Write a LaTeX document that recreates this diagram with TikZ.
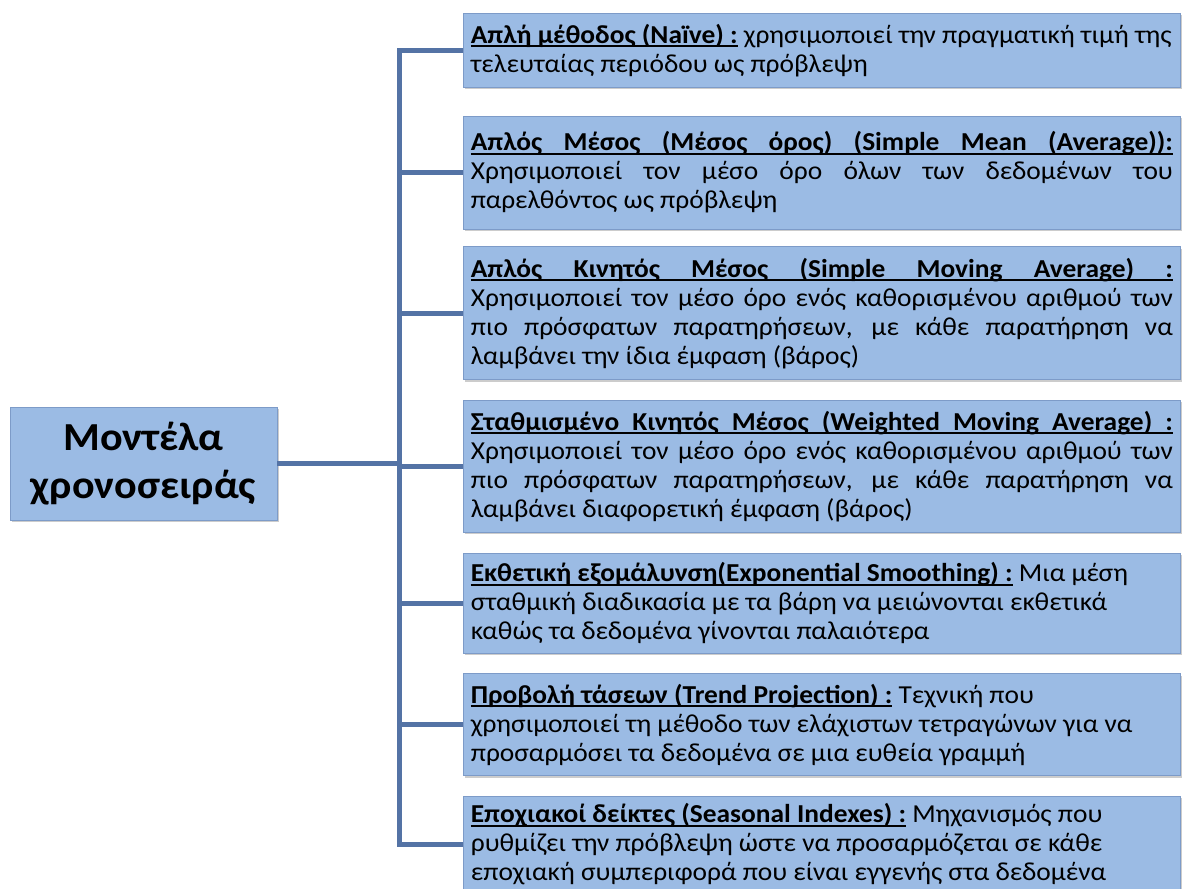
\documentclass[tikz,border=0pt]{standalone}
\usepackage{fontspec}
\setmainfont[FakeStretch=1.06]{Carlito}
\usepackage{tikz}
\usetikzlibrary{positioning,shadows}
\definecolor{boxblue}{RGB}{155,187,228}
\definecolor{boxedge}{RGB}{125,155,200}
\definecolor{linkblue}{RGB}{84,115,165}
\newlength\pxu
\setlength\pxu{0.75pt}
\setlength\parindent{0pt}
\hbadness=10000
\newbox\ulbox
\newcommand{\ulrule}{\vrule height -1.7pt depth 3.0pt}
\newcommand{\uw}[1]{\setbox\ulbox\hbox{\bfseries #1}\rlap{\ulrule width\wd\ulbox}\box\ulbox}
\newcommand{\ulline}[1]{\hbox to\linewidth{\rlap{\ulrule width\linewidth}\bfseries #1}}

\begin{document}
\begin{tikzpicture}[
    x=\pxu, y=-\pxu,
    node distance=20\pxu,
    box/.style={rectangle, draw=boxedge, line width=0.5pt, fill=boxblue, drop shadow={shadow xshift=1.5pt, shadow yshift=-1.5pt, opacity=0.4}},
    title/.style={box, minimum width=267\pxu, minimum height=113\pxu, align=center, font=\fontsize{29.8}{36}\selectfont\bfseries},
    item/.style={box, text width=702\pxu, inner xsep=7.5\pxu, inner ysep=0pt, align=justify, font=\fontsize{19.4}{21.75}\selectfont},
    link/.style={draw=linkblue, line width=5\pxu}
]
    \useasboundingbox (0,0) rectangle (1187,888);

    \node[title] (ts) at (143.5,463.5) {Μοντέλα\\χρονοσειράς};

    \node[item, anchor=north west, minimum height=74\pxu] (m1) at (463,13) {\uw{Απλή μέθοδος (Naïve) :} χρησιμοποιεί την πραγματική τιμή της\\ τελευταίας περιόδου ως πρόβλεψη};
    \node[item, below=28\pxu of m1, minimum height=113\pxu] (m2) {\ulline{Απλός Μέσος (Μέσος όρος) (Simple Mean (Average)):}
        Χρησιμοποιεί τον μέσο όρο όλων των δεδομένων του\linebreak παρελθόντος ως πρόβλεψη};
    \node[item, below=17\pxu of m2, minimum height=133\pxu] (m3) {\ulline{Απλός Κινητός Μέσος (Simple Moving Average) :}
        Χρησιμοποιεί τον μέσο όρο ενός καθορισμένου αριθμού των\linebreak πιο πρόσφατων παρατηρήσεων, με κάθε παρατήρηση να\linebreak λαμβάνει την ίδια έμφαση (βάρος)};
    \node[item, below=of m3, minimum height=132\pxu] (m4) {\ulline{Σταθμισμένο Κινητός Μέσος (Weighted Moving Average) :}
        Χρησιμοποιεί τον μέσο όρο ενός καθορισμένου αριθμού των\linebreak πιο πρόσφατων παρατηρήσεων, με κάθε παρατήρηση να\linebreak λαμβάνει διαφορετική έμφαση (βάρος)};
    \node[item, below=of m4, minimum height=100\pxu] (m5) {\uw{Εκθετική εξομάλυνση(Exponential Smoothing) :} Μια μέση\\ σταθμική διαδικασία με τα βάρη να μειώνονται εκθετικά\\ καθώς τα δεδομένα γίνονται παλαιότερα};
    \node[item, below=of m5, minimum height=102\pxu] (m6) {\uw{Προβολή τάσεων (Trend Projection) :} Τεχνική που\\ χρησιμοποιεί τη μέθοδο των ελάχιστων τετραγώνων για να\\ προσαρμόσει τα δεδομένα σε μια ευθεία γραμμή};
    \node[item, below=of m6, minimum height=96\pxu] (m7) {\uw{Εποχιακοί δείκτες (Seasonal Indexes) :} Μηχανισμός που\\ ρυθμίζει την πρόβλεψη ώστε να προσαρμόζεται σε κάθε\\ εποχιακή συμπεριφορά που είναι εγγενής στα δεδομένα};

    \coordinate (trunk) at (399,463.5);
    \draw[link] (ts.east) -- (ts.east -| trunk);
    \draw[link, line cap=rect] (trunk |- m1.west) -- (trunk |- m7.west);
    \foreach \n in {1,...,7}
        \draw[link] (trunk |- m\n.west) -- (m\n.west);
\end{tikzpicture}
\end{document}
